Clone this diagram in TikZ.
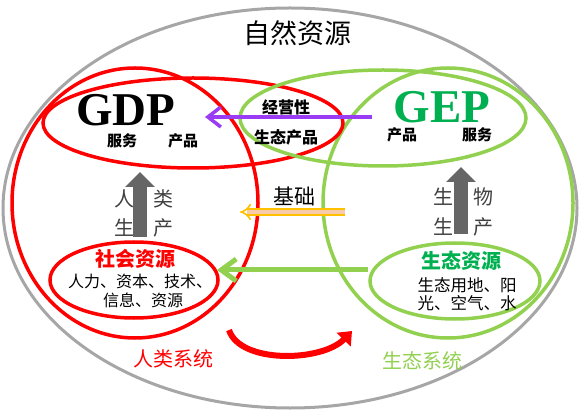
\documentclass[tikz,border=0pt]{standalone}
\usepackage{fontspec}
\setmainfont{Liberation Serif}
\newfontfamily\cjk{Noto Sans CJK SC}
\usetikzlibrary{arrows.meta}
\definecolor{outergray}{HTML}{A6A6A6}
\definecolor{hred}{HTML}{FF0000}
\definecolor{lgreen}{HTML}{92D050}
\definecolor{dgreen}{HTML}{00B050}
\definecolor{violet}{HTML}{9B3CF5}
\definecolor{gold}{HTML}{FFC000}
\definecolor{peach}{HTML}{F8CBAD}
\definecolor{arrgray}{HTML}{666666}
\definecolor{txtgray}{HTML}{404040}
\tikzset{
  lbl/.style={inner sep=0pt, font=\cjk},
  fs/.style={font=\cjk\fontsize{#1}{#1}\selectfont},
  bfs/.style={font=\cjk\bfseries\fontsize{#1}{#1}\selectfont},
  bigarrow/.style={line width=14pt, arrgray, -{Triangle[length=15pt,width=29pt]}},
  bigtxt/.style={inner sep=0pt, anchor=base, text depth=0pt, font=\bfseries\fontsize{47}{47}\selectfont},
}
\begin{document}
\begin{tikzpicture}[x=1pt,y=-1pt]
\useasboundingbox (0,0) rectangle (580,411);
% outer
\draw[outergray, line width=3pt] (290,208) ellipse [x radius=287, y radius=200];
% systems
\draw[hred, line width=3.5pt] (135,203) ellipse [x radius=123, y radius=135];
\draw[lgreen, line width=3.5pt] (448,203) ellipse [x radius=125, y radius=135];
\draw[hred, line width=3.5pt] (193,123) ellipse [x radius=150, y radius=45];
\draw[lgreen, line width=3.5pt] (383,118) ellipse [x radius=143, y radius=48];
\draw[hred, line width=3.5pt] (134,280) ellipse [x radius=84, y radius=38];
\draw[lgreen, line width=3.5pt] (455,281) ellipse [x radius=85, y radius=38];

% title
\node[lbl, fs=27] (title) at (297,33) {自然资源};

% GDP / GEP
\node[bigtxt] (gdp) at (126,126) {GDP};
\node[bigtxt, text=dgreen] (gep) at (442,123) {GEP};
\node[lbl, bfs=15] (gdpfw) at (122,141) {服务};
\node[lbl, bfs=15] (gdpcp) at (183,141) {产品};
\node[lbl, bfs=15] (gepcp) at (402,135) {产品};
\node[lbl, bfs=15] (gepfw) at (477,135) {服务};

% 经营性生态产品
\node[lbl, bfs=16] (jyx) at (286,107) {经营性};
\node[lbl, bfs=16] (stcp) at (286,137) {生态产品};

% purple arrow
\coordinate (pS) at (372,117);
\coordinate (pE) at (205,117);
\draw[violet, line width=3.5pt, -{Straight Barb[length=13pt,width=20pt]}] (pS) -- (pE);

% 基础 + orange arrow
\node[lbl, fs=21] (jc) at (294,196) {基础};
\coordinate (oS) at (345,212);
\coordinate (oE) at (240,212);
\draw[gold, line width=1.6pt, double=peach, double distance=4pt, -{Implies}] (oS) -- (oE);

% production arrows
\coordinate (hpS) at (140,237);
\coordinate (hpE) at (140,172);
\draw[bigarrow] (hpS) -- (hpE);
\coordinate (bpS) at (461,234);
\coordinate (bpE) at (461,167);
\draw[bigarrow] (bpS) -- (bpE);
\node[lbl, fs=20, text=txtgray] (h1) at (124,199) {人};
\node[lbl, fs=20, text=txtgray] (h2) at (163,199) {类};
\node[lbl, fs=20, text=txtgray] (h3) at (124,228) {生};
\node[lbl, fs=20, text=txtgray] (h4) at (163,228) {产};
\node[lbl, fs=20, text=txtgray] (b1) at (443,197) {生};
\node[lbl, fs=20, text=txtgray] (b2) at (483,197) {物};
\node[lbl, fs=20, text=txtgray] (b3) at (443,227) {生};
\node[lbl, fs=20, text=txtgray] (b4) at (483,227) {产};

% resources
\node[lbl, bfs=20, text=hred] (shzy) at (135,259) {社会资源};
\node[lbl, fs=16] (shzy1) at (140,281) {人力、资本、技术、};
\node[lbl, fs=16] (shzy2) at (143,300) {信息、资源};
\node[lbl, bfs=20, text=dgreen] (stzy) at (461,261) {生态资源};
\node[lbl, fs=16.5] (stzy1) at (467,285) {生态用地、阳};
\node[lbl, fs=16.5] (stzy2) at (467,303) {光、空气、水};

% green arrow
\coordinate (gS) at (368,270);
\coordinate (gE) at (217,270);
\draw[lgreen, line width=5pt, -{Straight Barb[length=15pt,width=22pt]}] (gS) -- (gE);

% red curved arrow
\coordinate (rS) at (229,330);
\coordinate (rE) at (352,331);
\draw[hred, line width=6pt, -{Triangle[length=12pt,width=19pt]}] (rS) .. controls (240,364) and (322,362) .. (rE);

% system labels
\node[lbl, fs=20, text=hred] (rlxt) at (173,359) {人类系统};
\node[lbl, fs=20, text=lgreen] (stxt) at (422,361) {生态系统};
\end{tikzpicture}
\end{document}
